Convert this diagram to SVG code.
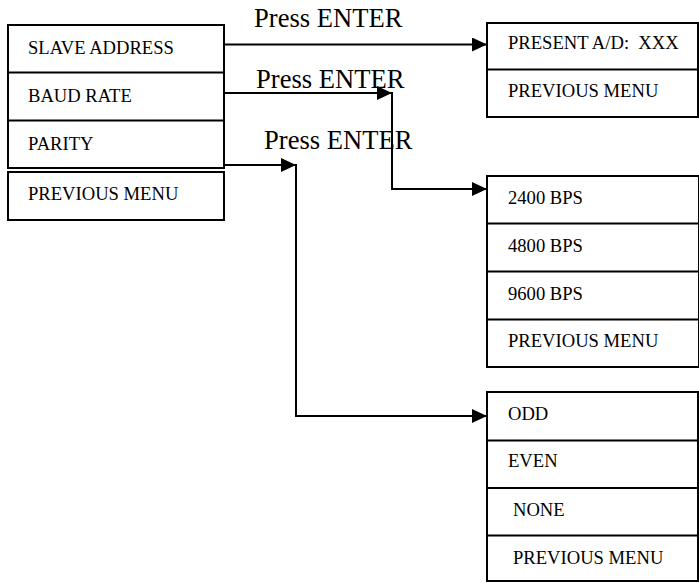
<svg xmlns="http://www.w3.org/2000/svg" width="699" height="583" viewBox="0 0 699 583">
<style>
.box{fill:#fff;stroke:#000;stroke-width:2}
.div{stroke:#000;stroke-width:2}
.t{font-family:"Liberation Serif","Times New Roman",serif;font-size:18.6px;fill:#000;white-space:pre}
.lbl{font-family:"Liberation Serif","Times New Roman",serif;font-size:26.6px;fill:#000}
.con{fill:none;stroke:#000;stroke-width:2}
</style>
<defs>
<marker id="ah" viewBox="0 0 15 14" refX="15" refY="7" markerWidth="15" markerHeight="14" markerUnits="userSpaceOnUse" orient="auto">
<path d="M0,0 L15,7 L0,14 Z" fill="#000"/>
</marker>
</defs>
<rect width="699" height="583" fill="#fff"/>
<g id="main-menu">
<rect class="box" x="8" y="25" width="216" height="143"/>
<line class="div" x1="8" y1="72.5" x2="224" y2="72.5"/>
<line class="div" x1="8" y1="120.5" x2="224" y2="120.5"/>
<text class="t" x="28" y="54">SLAVE ADDRESS</text>
<text class="t" x="28" y="102">BAUD RATE</text>
<text class="t" x="28" y="150">PARITY</text>
</g>
<g id="main-prev">
<rect class="box" x="8" y="172" width="216" height="48"/>
<text class="t" x="28" y="200">PREVIOUS MENU</text>
</g>
<g id="address-menu">
<rect class="box" x="487" y="23" width="211" height="94"/>
<line class="div" x1="487" y1="69.5" x2="698" y2="69.5"/>
<text class="t" x="508" y="49" xml:space="preserve">PRESENT A/D:  XXX</text>
<text class="t" x="508" y="97">PREVIOUS MENU</text>
</g>
<g id="baud-menu">
<rect class="box" x="487" y="176" width="212" height="191"/>
<line class="div" x1="487" y1="223.5" x2="699" y2="223.5"/>
<line class="div" x1="487" y1="271.5" x2="699" y2="271.5"/>
<line class="div" x1="487" y1="319.5" x2="699" y2="319.5"/>
<text class="t" x="508" y="204">2400 BPS</text>
<text class="t" x="508" y="252">4800 BPS</text>
<text class="t" x="508" y="300">9600 BPS</text>
<text class="t" x="508" y="347">PREVIOUS MENU</text>
</g>
<g id="parity-menu">
<rect class="box" x="487" y="392" width="211" height="189"/>
<line class="div" x1="487" y1="440.5" x2="698" y2="440.5"/>
<line class="div" x1="487" y1="488" x2="698" y2="488"/>
<line class="div" x1="487" y1="535.5" x2="698" y2="535.5"/>
<text class="t" x="508" y="420">ODD</text>
<text class="t" x="508" y="467">EVEN</text>
<text class="t" x="513" y="516">NONE</text>
<text class="t" x="513" y="564">PREVIOUS MENU</text>
</g>
<g id="connectors">
<line class="con" x1="224" y1="44.5" x2="487" y2="44.5" marker-end="url(#ah)"/>
<line class="con" x1="224" y1="93" x2="392" y2="93" marker-end="url(#ah)"/>
<polyline class="con" points="392,92 392,189 487,189" marker-end="url(#ah)"/>
<line class="con" x1="224" y1="165" x2="296" y2="165" marker-end="url(#ah)"/>
<polyline class="con" points="296,164 296,416 487,416" marker-end="url(#ah)"/>
<text class="lbl" x="254" y="27">Press ENTER</text>
<text class="lbl" x="256" y="88">Press ENTER</text>
<text class="lbl" x="264" y="149">Press ENTER</text>
</g>
</svg>
